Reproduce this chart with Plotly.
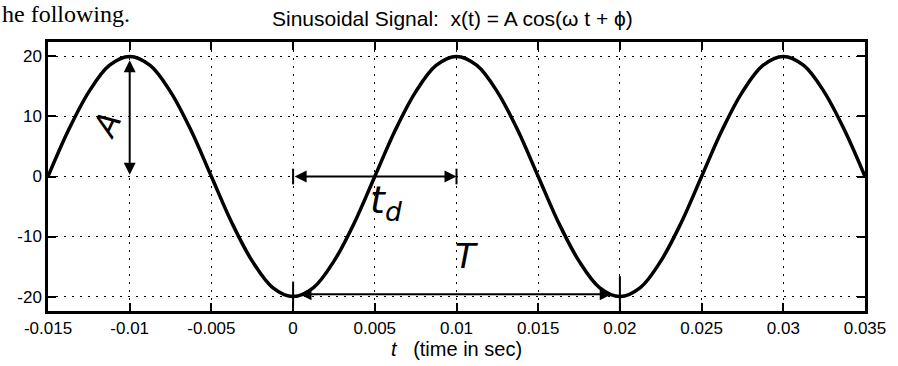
import plotly.graph_objects as go

t_vals = [round(-0.015 + 0.00125 * i, 5) for i in range(41)]
x_vals = [0, 7.7, 14.1, 18.5, 20, 18.5, 14.1, 7.7,
          0, -7.7, -14.1, -18.5, -20, -18.5, -14.1, -7.7,
          0, 7.7, 14.1, 18.5, 20, 18.5, 14.1, 7.7,
          0, -7.7, -14.1, -18.5, -20, -18.5, -14.1, -7.7,
          0, 7.7, 14.1, 18.5, 20, 18.5, 14.1, 7.7, 0]
x_ticks = [-0.015, -0.01, -0.005, 0, 0.005, 0.01, 0.015, 0.02, 0.025, 0.03, 0.035]
x_tick_text = ["-0.015", "-0.01", "-0.005", "0", "0.005", "0.01", "0.015", "0.02", "0.025", "0.03", "0.035"]
y_ticks = [-20, -10, 0, 10, 20]
y_tick_text = ["-20", "-10", "0", "10", "20"]

fig = go.Figure()
fig.add_trace(go.Scatter(x=t_vals, y=x_vals, mode="lines",
                         line=dict(color="black", width=3.5, shape="spline"),
                         showlegend=False, hoverinfo="skip"))

axis_common = dict(showline=True, linecolor="black", linewidth=2.5, mirror="ticks",
                   ticks="inside", ticklen=8, tickwidth=2, tickcolor="black",
                   showgrid=True, gridcolor="black", griddash="2px,6px", gridwidth=1,
                   zeroline=False, tickfont=dict(family="Liberation Sans, Arial", size=17, color="black"))

fig.update_xaxes(range=[-0.015, 0.035], tickvals=x_ticks, ticktext=x_tick_text,
                 title=dict(text="<i>t</i>   (time in sec)", standoff=2,
                            font=dict(family="Liberation Sans, Arial", size=20, color="black")),
                 **axis_common)
fig.update_yaxes(range=[-22.4, 22.4], tickvals=y_ticks, ticktext=y_tick_text, **axis_common)

# Arrow annotations
arr = dict(showarrow=True, arrowcolor="black", arrowwidth=2, arrowhead=2, arrowsize=1.2,
           axref="x", ayref="y", xref="x", yref="y", text="", startarrowhead=2, startarrowsize=1.2)
fig.add_annotation(x=-0.01, y=0.3, ax=-0.01, ay=19.6, arrowside="end+start", **arr)
fig.add_annotation(x=0.01, y=0, ax=0.0, ay=0, arrowside="end+start", **arr)
fig.add_annotation(x=0.0195, y=-19.6, ax=0.0003, ay=-19.6, arrowside="end+start", **arr)
# end bars
for (xx, y0, y1) in [(0.0, -1.3, 1.3), (0.01, -1.3, 1.3), (0.02, -22.4, -16.6), (0.0, -21.5, -17.5)]:
    fig.add_shape(type="line", x0=xx, x1=xx, y0=y0, y1=y1, line=dict(color="black", width=2))

hand = dict(family="DejaVu Sans, Liberation Sans", color="black")
fig.add_annotation(x=-0.0114, y=8.6, text="<i>A</i>", showarrow=False, textangle=-65,
                   font=dict(size=32, **hand))
fig.add_annotation(x=0.0057, y=-4.3, text="<i>t<sub>d</sub></i>", showarrow=False,
                   font=dict(size=38, **hand))
fig.add_annotation(x=0.0106, y=-13.3, text="<i>T</i>", showarrow=False,
                   font=dict(size=34, **hand))

# Title and scanned page text
fig.add_annotation(xref="paper", yref="paper", x=0.495, y=1.0, yshift=24,
                   xanchor="center", yanchor="middle",
                   text="Sinusoidal Signal:  x(t) = A cos(\u03c9 t + \u03d5)", showarrow=False,
                   font=dict(family="Liberation Sans, Arial", size=21, color="black"))
fig.add_annotation(xref="paper", yref="paper", x=0, y=1.0, xshift=-48, yshift=28,
                   xanchor="left", yanchor="middle",
                   text="he following.", showarrow=False,
                   font=dict(family="Liberation Serif, Times New Roman", size=24, color="black"))

fig.update_layout(width=898, height=366, margin=dict(l=48, r=30, t=42, b=52),
                  paper_bgcolor="white", plot_bgcolor="white")
fig.write_html("out.html")
